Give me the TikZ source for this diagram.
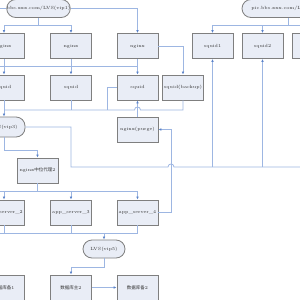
\documentclass[tikz,border=0pt]{standalone}
\usepackage{fontspec}
\newfontfamily\cjk{Noto Sans CJK SC}
\usetikzlibrary{arrows.meta}
\definecolor{boxfill}{HTML}{E9EDF6}
\definecolor{boxborder}{HTML}{7F7F7F}
\definecolor{linec}{HTML}{9DB6E2}
\definecolor{tipc}{HTML}{5B83C9}
\tikzset{
  box/.style={draw=boxborder, fill=boxfill, line width=0.8pt, minimum width=41pt,
    minimum height=25pt, inner sep=0pt, text=black!80, font=\fontsize{4.5}{5}\selectfont},
  term/.style={box, rounded corners=9pt, minimum height=18pt},
  conn/.style={draw=linec, line width=0.8pt},
  arr/.style={conn, -{Latex[length=3pt,width=2.6pt,color=tipc]}}
}
\begin{document}
\begin{tikzpicture}[x=1pt,y=-1pt]
\useasboundingbox (0,0) rectangle (300,300);
\clip (0,0) rectangle (300,300);
\fill[white] (0,0) rectangle (300,300);
% terminators
\node[term, minimum width=57pt] (lvs1) at (38.5,8.5) {bbs.xxx.com/LVS(vip1)};
\node[term, minimum width=92pt] (lvs2) at (288,8.5) {pic.bbs.xxx.com/LVS(vip2)};
\node[term, minimum width=42pt, minimum height=20pt] (lvs3) at (4,127) {LVS(vip3)};
\node[term, minimum width=42pt] (lvs5) at (104,249) {LVS(vip5)};
% row 1
\node[box] (ng1) at (4,46) {nginx};
\node[box] (ng2) at (71,46) {nginx};
\node[box] (ng3) at (137.5,46) {nginx};
\node[box] (sq1) at (212.5,46) {squid1};
\node[box] (sq2) at (262.5,46) {squid2};
\node[box] (sq3) at (312.5,46) {squid3};
% row 2
\node[box] (sa1) at (4,87.5) {squid};
\node[box] (sa2) at (71,87.5) {squid};
\node[box] (sa3) at (137.5,87.5) {squid};
\node[box] (sbk) at (183,87.5) {squid(backup)};
% purge
\node[box] (purge) at (137.5,129.5) {nginx(purge)};
\node[box] (mid2) at (37.5,170.5) {nginx{\cjk 中位代理}2};
% apps
\node[box] (app2) at (4,212.5) {app\_server\_2};
\node[box] (app3) at (71,212.5) {app\_server\_3};
\node[box] (app4) at (137.5,212.5) {app\_server\_4};
% db
\node[box] (db1) at (4,287.5) {{\cjk 数据库备}1};
\node[box] (db2) at (71,287.5) {{\cjk 数据库主}2};
\node[box] (db3) at (137.5,287.5) {{\cjk 数据库备}2};
% free ends
\coordinate (in1) at (0,8.5);
\coordinate (busA) at (0,66);
\coordinate (busAr) at (137.5,66);
\coordinate (j3) at (107,110);
\coordinate (k1) at (71,167);
\coordinate (farR) at (300,167);
\coordinate (k2) at (171,129.5);
\coordinate (mbus) at (0,191);
\coordinate (abus) at (0,233);
\coordinate (abusr) at (137.5,233);
% connectors top-left
\draw[conn] (lvs1.west) -- (in1);
\draw[arr] (lvs1.south) -- ++(0,7.5) -| (ng1.north);
\draw[arr] (lvs1.south) -- ++(0,7.5) -| (ng2.north);
\draw[arr] (lvs1.east) -| (ng3.north);
\draw[conn] (busA) -- (busAr);
\draw[arr] (ng1.south) -- (sa1.north);
\draw[arr] (ng2.south) -- (sa2.north);
\draw[arr] (ng3.south) -- (sa3.north);
\draw[arr] (ng3.east) -| (sbk.north);
% right top
\draw[arr] (lvs2.south) -- ++(0,7.5) -| (sq1.north);
\draw[arr] (lvs2.south) -- ++(0,7.5) -| (sq2.north);
\draw[arr] (lvs2.south) -- ++(0,7.5) -| (sq3.north);
% squid outputs to lvs3
\draw[arr] (sa1.south) -- (lvs3.north);
\draw[conn] (sa2.south) -- (sa2.south |- j3);
\draw[conn] (sa3.west) -| (j3);
\draw[conn] (sbk.south) |- (140.5,110) .. controls (140.5,106) and (134.5,106) .. (134.5,110) -- (sa1.south |- j3);
\draw[arr] (purge.north) -- (sa3.south);
% lvs3 to squid1/2
\draw[conn] (lvs3.east) -| (k1) -- (168,167) .. controls (168,163) and (174,163) .. (174,167) -- (farR);
\draw[arr] (sq1.south |- k1) -- (sq1.south);
\draw[arr] (sq2.south |- k1) -- (sq2.south);
% app4 to purge
\draw[arr] (app4.east) -| (k2) -- (purge.east);
% lvs3 to mid2
\draw[arr] (lvs3.south) -- ++(0,13) -| (mid2.north);
\draw[conn] (mid2.south) |- (mbus);
\draw[arr] (mid2.south) |- ++(0,8) -| (app2.north);
\draw[arr] (mid2.south) |- ++(0,8) -| (app3.north);
\draw[arr] (mid2.south) |- ++(0,8) -| (app4.north);
% apps to lvs5
\draw[conn] (abus) -- (abusr);
\draw[conn] (app2.south) -- (app2.south |- abus);
\draw[conn] (app3.south) -- (app3.south |- abus);
\draw[conn] (app4.south) -- (app4.south |- abus);
\draw[arr] (lvs5.north |- abus) -- (lvs5.north);
\draw[arr] (lvs5.south) -- ++(0,9) -| (db2.north);
\draw[arr] (db2.east) -- (db3.west);
\end{tikzpicture}
\end{document}
